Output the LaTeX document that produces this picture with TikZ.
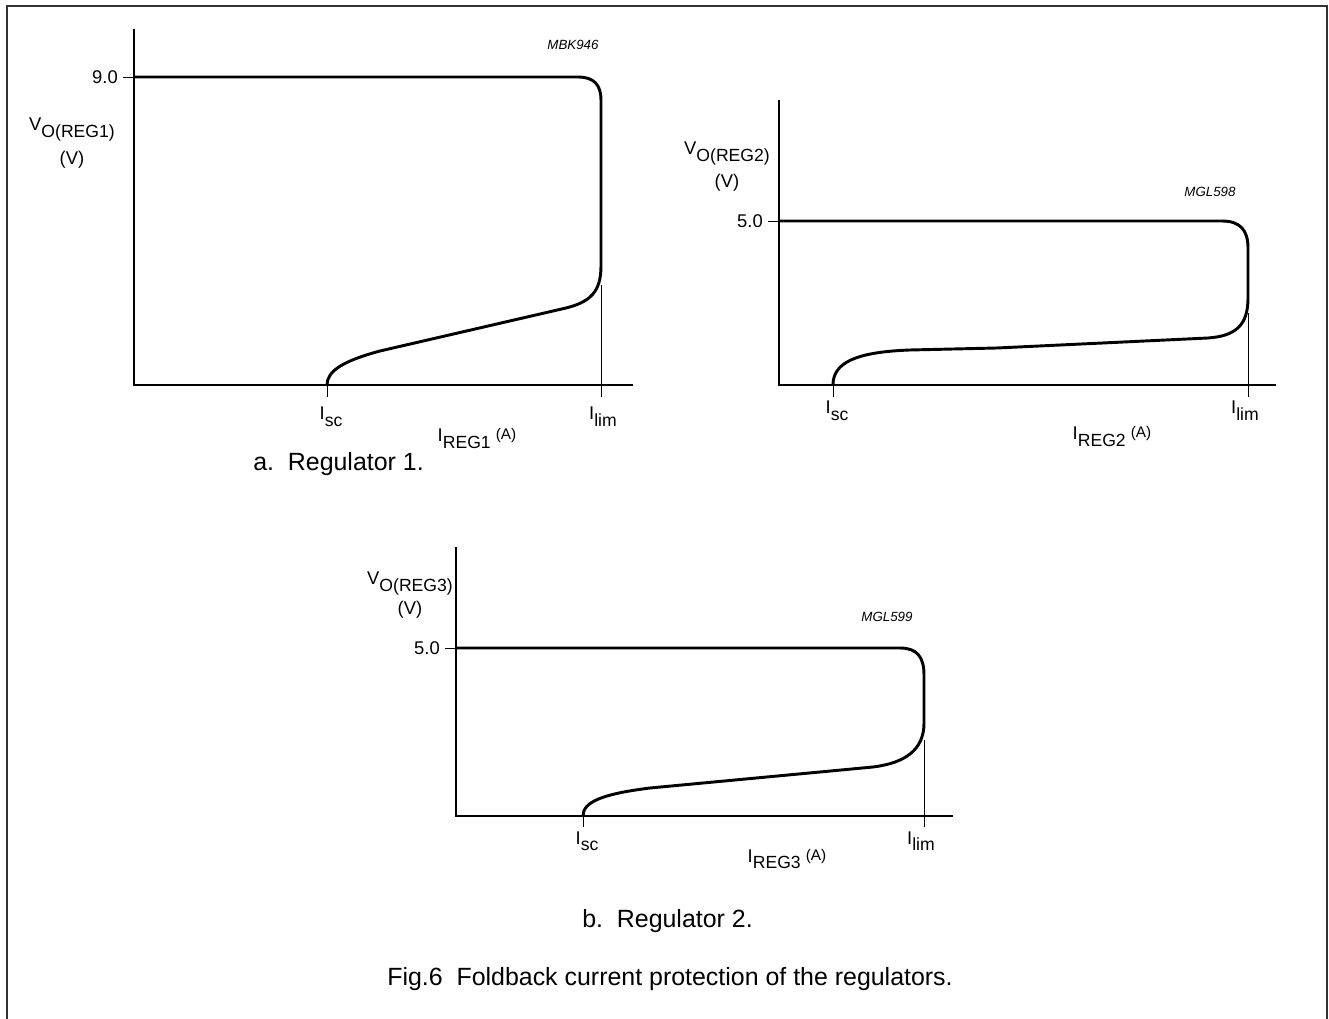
\documentclass[tikz,border=0pt]{standalone}
\usepackage{fontspec}
\setmainfont{Liberation Sans}
\newcommand\lsub[1]{\raisebox{-5pt}{\fontsize{13.2}{14}\selectfont #1}}
\newcommand\unitA{\raisebox{1.5pt}{\fontsize{11.5}{12}\selectfont (A)}}
\begin{document}
\begin{tikzpicture}[x=0.75pt,y=-0.75pt,
  lbl/.style={font=\fontsize{13.8}{15}\selectfont, inner sep=0pt},
  code/.style={font=\fontsize{10}{12}\selectfont\itshape, inner sep=0pt},
  captxt/.style={font=\fontsize{18.7}{21}\selectfont, inner sep=0pt},
  axis/.style={line width=0.8pt},
  curve/.style={line width=2.2pt, line join=round},
  tickln/.style={line width=0.6pt}]
\useasboundingbox (0,0) rectangle (1329,1019);
% frame
\draw[line width=1.3pt, black!80] (7,1019) -- (7,6) -- (1327,6) -- (1327,1019);

% ---------- plot 1 ----------
\coordinate (o1) at (134,385);
\coordinate (t1) at (134,29);
\coordinate (e1) at (633,385);
\draw[axis] (t1) -- (o1) -- (e1);
\coordinate (k1a) at (123,77);
\coordinate (k1b) at (134,77);
\draw[tickln] (k1a) -- (k1b);
\coordinate (sc1) at (327,385);
\coordinate (sc1b) at (327,397);
\draw[tickln] (sc1) -- (sc1b);
\coordinate (lim1a) at (601,285);
\coordinate (lim1b) at (601,397);
\draw[tickln] (lim1a) -- (lim1b);
\draw[curve] (k1b) -- (578,77) .. controls (594,77) and (601,85) .. (601,100)
  -- (601,266) .. controls (601,292) and (590,302) .. (566,308)
  -- (380,351) .. controls (343,361) and (327,371) .. (327,385);
\node[lbl, anchor=east] (n90) at (118,77) {9.0};
\node[lbl, anchor=base] (v1) at (72,131) {V\lsub{O(REG1)}};
\node[lbl] (v1u) at (72,160) {(V)};
\node[code] (c1) at (573,45) {MBK946};
\node[lbl, anchor=base] (isc1) at (331,420) {I\lsub{sc}};
\node[lbl, anchor=base] (ilim1) at (603,420) {I\lsub{lim}};
\node[lbl, anchor=base] (ireg1) at (477,442) {I\lsub{REG1} \unitA};
\node[captxt, anchor=base west] (capa) at (253,471) {a.\ \ Regulator 1.};

% ---------- plot 2 ----------
\coordinate (o2) at (779,385);
\coordinate (t2) at (779,100);
\coordinate (e2) at (1276,385);
\draw[axis] (t2) -- (o2) -- (e2);
\coordinate (k2a) at (768,221);
\coordinate (k2b) at (779,221);
\draw[tickln] (k2a) -- (k2b);
\coordinate (sc2) at (833,385);
\coordinate (sc2b) at (833,397);
\draw[tickln] (sc2) -- (sc2b);
\coordinate (lim2a) at (1248,313);
\coordinate (lim2b) at (1248,397);
\draw[tickln] (lim2a) -- (lim2b);
\draw[curve] (k2b) -- (1222,221) .. controls (1240,221) and (1248,230) .. (1248,248)
  -- (1248,298) .. controls (1248,325) and (1236,336) .. (1208,338)
  -- (997,348) -- (910,350) .. controls (855,352) and (833,363) .. (833,385);
\node[lbl, anchor=east] (n50a) at (763,221) {5.0};
\node[lbl, anchor=base] (v2) at (727,155) {V\lsub{O(REG2)}};
\node[lbl] (v2u) at (727,183) {(V)};
\node[code] (c2) at (1210,192) {MGL598};
\node[lbl, anchor=base] (isc2) at (837,414) {I\lsub{sc}};
\node[lbl, anchor=base] (ilim2) at (1245,414) {I\lsub{lim}};
\node[lbl, anchor=base] (ireg2) at (1112,440) {I\lsub{REG2} \unitA};

% ---------- plot 3 ----------
\coordinate (o3) at (456,816);
\coordinate (t3) at (456,547);
\coordinate (e3) at (953,816);
\draw[axis] (t3) -- (o3) -- (e3);
\coordinate (k3a) at (445,648);
\coordinate (k3b) at (456,648);
\draw[tickln] (k3a) -- (k3b);
\coordinate (sc3) at (583,816);
\coordinate (sc3b) at (583,827);
\draw[tickln] (sc3) -- (sc3b);
\coordinate (lim3a) at (924,740);
\coordinate (lim3b) at (924,827);
\draw[tickln] (lim3a) -- (lim3b);
\draw[curve] (k3b) -- (900,648) .. controls (917,648) and (924,657) .. (924,675)
  -- (924,723) .. controls (924,750) and (905,763) .. (873,767)
  -- (650,788) .. controls (602,794) and (583,802) .. (583,816);
\node[lbl, anchor=east] (n50b) at (440,648) {5.0};
\node[lbl, anchor=base] (v3) at (410,585) {V\lsub{O(REG3)}};
\node[lbl] (v3u) at (410,610) {(V)};
\node[code] (c3) at (887,617) {MGL599};
\node[lbl, anchor=base] (isc3) at (587,844) {I\lsub{sc}};
\node[lbl, anchor=base] (ilim3) at (921,844) {I\lsub{lim}};
\node[lbl, anchor=base] (ireg3) at (787,862) {I\lsub{REG3} \unitA};
\node[captxt, anchor=base west] (capb) at (582,927) {b.\ \ Regulator 2.};

\node[captxt, anchor=base] (fig) at (670,985) {Fig.6\ \ Foldback current protection of the regulators.};
\end{tikzpicture}
\end{document}
